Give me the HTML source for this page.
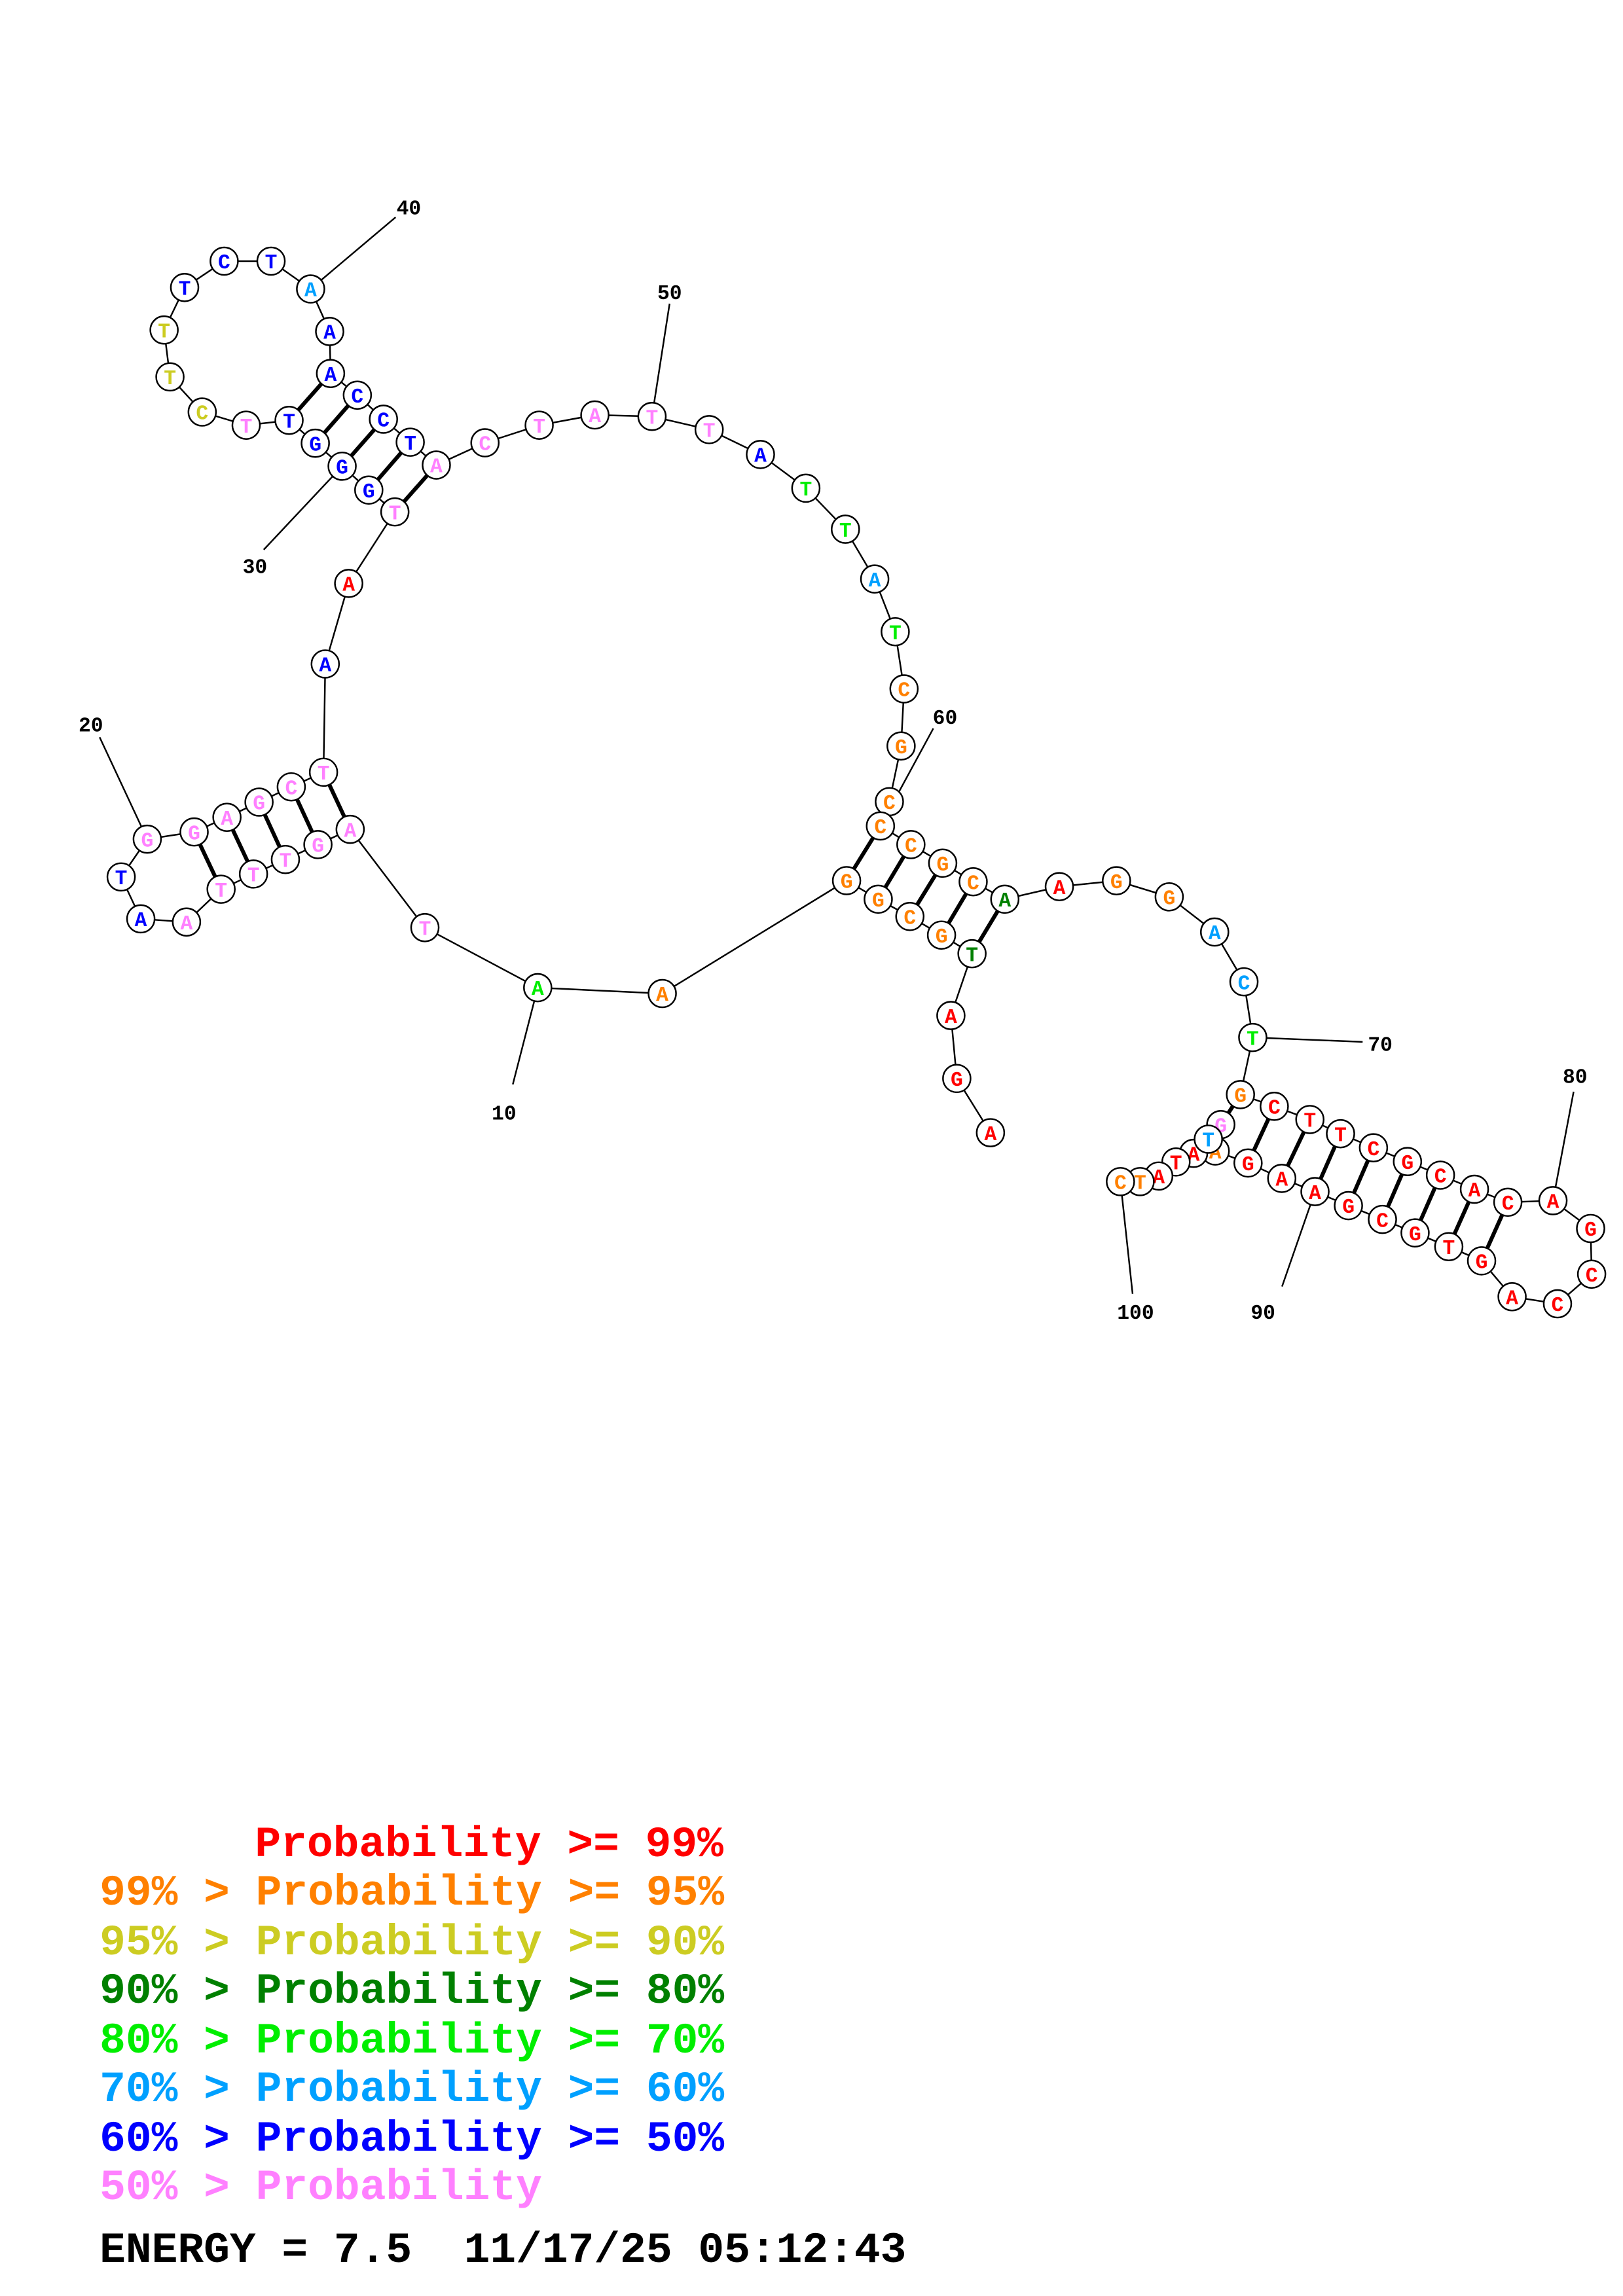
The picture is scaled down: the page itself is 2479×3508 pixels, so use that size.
<!DOCTYPE html>
<html><head><meta charset="utf-8"><style>html,body{margin:0;padding:0;background:#fff}svg{display:block}</style></head><body>
<svg xmlns="http://www.w3.org/2000/svg" width="2479" height="3508" viewBox="0 0 1107.7 1566.9">
<rect x="0" y="0" width="1107.7" height="1566.9" fill="#fff"/>
<g stroke="#000" stroke-width="1.1" fill="none">
<polyline points="676,773 653,736 649,693 663.4,650.8 642.6,638.1 621,625.4 599.4,613.6 577.8,600.9 452,678 367,674 290,633 239,565.9 217,576.3 194.8,586.5 173,596.4 150.9,606.8 127.3,629.2 96.1,627 82.7,598.4 100.5,572.6 132.5,567.7 154.9,557.7 176.8,547.3 198.8,536.9 220.8,526.9 222,453 238,398 269.5,349.2 251.7,334.3 233.5,318 215.2,302.3 197.3,286.7 168,290 138,281 116,257 112,225 126,196 153,178 185,178 212,197 225,226 225.6,254.7 243.9,269.5 261.7,285.9 280,301.6 297.8,317.2 331,302 368,290 406,283 445,284 484,293 519,310 550,333 577,361 597,395 611,431 617,470 615,509 607,547 600.9,563.6 621.7,576.3 643.4,589 664.2,601.7 685.8,613.6 723,605 762,601 798,612 829,636 849,670 855,708 846.6,747 869.7,755 894,764 914.9,773.7 937.4,783.3 960.6,792.7 983.1,802 1006.3,811.6 1029.1,820.5 1059.9,819.4 1085.6,838.4 1086.3,869.6 1063,889.8 1032,885 1011.2,860.5 988.8,850.8 965.8,841.4 943.5,832.2 920.3,822.8 897.5,813.2 874.8,804.2 851.8,793.7 829.4,785.5 833.2,767.5 824.7,777.4 814.6,787.1 802.6,793 790.8,802.6 778.1,806.4 764.7,806.4"/>
<line x1="367" y1="674" x2="350" y2="740"/>
<line x1="100.5" y1="572.6" x2="68" y2="503"/>
<line x1="233.5" y1="318" x2="180" y2="375"/>
<line x1="212" y1="197" x2="270" y2="148"/>
<line x1="445" y1="284" x2="457" y2="207"/>
<line x1="600.9" y1="563.6" x2="637" y2="497"/>
<line x1="855" y1="708" x2="930" y2="711"/>
<line x1="1059.9" y1="819.4" x2="1074" y2="745"/>
<line x1="897.5" y1="813.2" x2="875" y2="878"/>
<line x1="764.7" y1="806.4" x2="773" y2="883"/>
</g>
<g stroke="#000" stroke-width="2.7">
<line x1="239" y1="565.9" x2="220.8" y2="526.9"/>
<line x1="217" y1="576.3" x2="198.8" y2="536.9"/>
<line x1="194.8" y1="586.5" x2="176.8" y2="547.3"/>
<line x1="173" y1="596.4" x2="154.9" y2="557.7"/>
<line x1="150.9" y1="606.8" x2="132.5" y2="567.7"/>
<line x1="269.5" y1="349.2" x2="297.8" y2="317.2"/>
<line x1="251.7" y1="334.3" x2="280" y2="301.6"/>
<line x1="233.5" y1="318" x2="261.7" y2="285.9"/>
<line x1="215.2" y1="302.3" x2="243.9" y2="269.5"/>
<line x1="197.3" y1="286.7" x2="225.6" y2="254.7"/>
<line x1="663.4" y1="650.8" x2="685.8" y2="613.6"/>
<line x1="642.6" y1="638.1" x2="664.2" y2="601.7"/>
<line x1="621" y1="625.4" x2="643.4" y2="589"/>
<line x1="599.4" y1="613.6" x2="621.7" y2="576.3"/>
<line x1="577.8" y1="600.9" x2="600.9" y2="563.6"/>
<line x1="846.6" y1="747" x2="833.2" y2="767.5"/>
<line x1="869.7" y1="755" x2="851.8" y2="793.7"/>
<line x1="894" y1="764" x2="874.8" y2="804.2"/>
<line x1="914.9" y1="773.7" x2="897.5" y2="813.2"/>
<line x1="937.4" y1="783.3" x2="920.3" y2="822.8"/>
<line x1="960.6" y1="792.7" x2="943.5" y2="832.2"/>
<line x1="983.1" y1="802" x2="965.8" y2="841.4"/>
<line x1="1006.3" y1="811.6" x2="988.8" y2="850.8"/>
<line x1="1029.1" y1="820.5" x2="1011.2" y2="860.5"/>
</g>
<g font-family="'Liberation Mono', monospace" font-weight="bold" font-size="14" fill="#000" text-anchor="middle">
<text x="344" y="764">10</text><text x="62" y="499">20</text><text x="174" y="391">30</text><text x="279" y="146">40</text>
<text x="457" y="204">50</text><text x="645" y="494">60</text><text x="942" y="717">70</text><text x="1075" y="739">80</text>
<text x="862" y="900">90</text><text x="775" y="900">100</text>
</g>
<defs><style>
.n circle{fill:#fff;stroke:#000;stroke-width:1.1}
.n text{font-family:'Liberation Mono',monospace;font-weight:bold;font-size:14px;text-anchor:middle}
.r{fill:#ff0000}.o{fill:#ff8000}.y{fill:#cccc22}.d{fill:#008000}.g{fill:#00ee00}.c{fill:#00a0ff}.b{fill:#0000ff}.p{fill:#ff80ff}
</style></defs>
<g class="n">
<circle cx="676" cy="773" r="9.4"/><text class="r" x="676" y="778">A</text>
<circle cx="653" cy="736" r="9.4"/><text class="r" x="653" y="741">G</text>
<circle cx="649" cy="693" r="9.4"/><text class="r" x="649" y="698">A</text>
<circle cx="663.4" cy="650.8" r="9.4"/><text class="d" x="663.4" y="655.8">T</text>
<circle cx="642.6" cy="638.1" r="9.4"/><text class="o" x="642.6" y="643.1">G</text>
<circle cx="621" cy="625.4" r="9.4"/><text class="o" x="621" y="630.4">C</text>
<circle cx="599.4" cy="613.6" r="9.4"/><text class="o" x="599.4" y="618.6">G</text>
<circle cx="577.8" cy="600.9" r="9.4"/><text class="o" x="577.8" y="605.9">G</text>
<circle cx="452" cy="678" r="9.4"/><text class="o" x="452" y="683">A</text>
<circle cx="367" cy="674" r="9.4"/><text class="g" x="367" y="679">A</text>
<circle cx="290" cy="633" r="9.4"/><text class="p" x="290" y="638">T</text>
<circle cx="239" cy="565.9" r="9.4"/><text class="p" x="239" y="570.9">A</text>
<circle cx="217" cy="576.3" r="9.4"/><text class="p" x="217" y="581.3">G</text>
<circle cx="194.8" cy="586.5" r="9.4"/><text class="p" x="194.8" y="591.5">T</text>
<circle cx="173" cy="596.4" r="9.4"/><text class="p" x="173" y="601.4">T</text>
<circle cx="150.9" cy="606.8" r="9.4"/><text class="p" x="150.9" y="611.8">T</text>
<circle cx="127.3" cy="629.2" r="9.4"/><text class="p" x="127.3" y="634.2">A</text>
<circle cx="96.1" cy="627" r="9.4"/><text class="b" x="96.1" y="632">A</text>
<circle cx="82.7" cy="598.4" r="9.4"/><text class="b" x="82.7" y="603.4">T</text>
<circle cx="100.5" cy="572.6" r="9.4"/><text class="p" x="100.5" y="577.6">G</text>
<circle cx="132.5" cy="567.7" r="9.4"/><text class="p" x="132.5" y="572.7">G</text>
<circle cx="154.9" cy="557.7" r="9.4"/><text class="p" x="154.9" y="562.7">A</text>
<circle cx="176.8" cy="547.3" r="9.4"/><text class="p" x="176.8" y="552.3">G</text>
<circle cx="198.8" cy="536.9" r="9.4"/><text class="p" x="198.8" y="541.9">C</text>
<circle cx="220.8" cy="526.9" r="9.4"/><text class="p" x="220.8" y="531.9">T</text>
<circle cx="222" cy="453" r="9.4"/><text class="b" x="222" y="458">A</text>
<circle cx="238" cy="398" r="9.4"/><text class="r" x="238" y="403">A</text>
<circle cx="269.5" cy="349.2" r="9.4"/><text class="p" x="269.5" y="354.2">T</text>
<circle cx="251.7" cy="334.3" r="9.4"/><text class="b" x="251.7" y="339.3">G</text>
<circle cx="233.5" cy="318" r="9.4"/><text class="b" x="233.5" y="323">G</text>
<circle cx="215.2" cy="302.3" r="9.4"/><text class="b" x="215.2" y="307.3">G</text>
<circle cx="197.3" cy="286.7" r="9.4"/><text class="b" x="197.3" y="291.7">T</text>
<circle cx="168" cy="290" r="9.4"/><text class="p" x="168" y="295">T</text>
<circle cx="138" cy="281" r="9.4"/><text class="y" x="138" y="286">C</text>
<circle cx="116" cy="257" r="9.4"/><text class="y" x="116" y="262">T</text>
<circle cx="112" cy="225" r="9.4"/><text class="y" x="112" y="230">T</text>
<circle cx="126" cy="196" r="9.4"/><text class="b" x="126" y="201">T</text>
<circle cx="153" cy="178" r="9.4"/><text class="b" x="153" y="183">C</text>
<circle cx="185" cy="178" r="9.4"/><text class="b" x="185" y="183">T</text>
<circle cx="212" cy="197" r="9.4"/><text class="c" x="212" y="202">A</text>
<circle cx="225" cy="226" r="9.4"/><text class="b" x="225" y="231">A</text>
<circle cx="225.6" cy="254.7" r="9.4"/><text class="b" x="225.6" y="259.7">A</text>
<circle cx="243.9" cy="269.5" r="9.4"/><text class="b" x="243.9" y="274.5">C</text>
<circle cx="261.7" cy="285.9" r="9.4"/><text class="b" x="261.7" y="290.9">C</text>
<circle cx="280" cy="301.6" r="9.4"/><text class="b" x="280" y="306.6">T</text>
<circle cx="297.8" cy="317.2" r="9.4"/><text class="p" x="297.8" y="322.2">A</text>
<circle cx="331" cy="302" r="9.4"/><text class="p" x="331" y="307">C</text>
<circle cx="368" cy="290" r="9.4"/><text class="p" x="368" y="295">T</text>
<circle cx="406" cy="283" r="9.4"/><text class="p" x="406" y="288">A</text>
<circle cx="445" cy="284" r="9.4"/><text class="p" x="445" y="289">T</text>
<circle cx="484" cy="293" r="9.4"/><text class="p" x="484" y="298">T</text>
<circle cx="519" cy="310" r="9.4"/><text class="b" x="519" y="315">A</text>
<circle cx="550" cy="333" r="9.4"/><text class="g" x="550" y="338">T</text>
<circle cx="577" cy="361" r="9.4"/><text class="g" x="577" y="366">T</text>
<circle cx="597" cy="395" r="9.4"/><text class="c" x="597" y="400">A</text>
<circle cx="611" cy="431" r="9.4"/><text class="g" x="611" y="436">T</text>
<circle cx="617" cy="470" r="9.4"/><text class="o" x="617" y="475">C</text>
<circle cx="615" cy="509" r="9.4"/><text class="o" x="615" y="514">G</text>
<circle cx="607" cy="547" r="9.4"/><text class="o" x="607" y="552">C</text>
<circle cx="600.9" cy="563.6" r="9.4"/><text class="o" x="600.9" y="568.6">C</text>
<circle cx="621.7" cy="576.3" r="9.4"/><text class="o" x="621.7" y="581.3">C</text>
<circle cx="643.4" cy="589" r="9.4"/><text class="o" x="643.4" y="594">G</text>
<circle cx="664.2" cy="601.7" r="9.4"/><text class="o" x="664.2" y="606.7">C</text>
<circle cx="685.8" cy="613.6" r="9.4"/><text class="d" x="685.8" y="618.6">A</text>
<circle cx="723" cy="605" r="9.4"/><text class="r" x="723" y="610">A</text>
<circle cx="762" cy="601" r="9.4"/><text class="o" x="762" y="606">G</text>
<circle cx="798" cy="612" r="9.4"/><text class="o" x="798" y="617">G</text>
<circle cx="829" cy="636" r="9.4"/><text class="c" x="829" y="641">A</text>
<circle cx="849" cy="670" r="9.4"/><text class="c" x="849" y="675">C</text>
<circle cx="855" cy="708" r="9.4"/><text class="g" x="855" y="713">T</text>
<circle cx="846.6" cy="747" r="9.4"/><text class="o" x="846.6" y="752">G</text>
<circle cx="869.7" cy="755" r="9.4"/><text class="r" x="869.7" y="760">C</text>
<circle cx="894" cy="764" r="9.4"/><text class="r" x="894" y="769">T</text>
<circle cx="914.9" cy="773.7" r="9.4"/><text class="r" x="914.9" y="778.7">T</text>
<circle cx="937.4" cy="783.3" r="9.4"/><text class="r" x="937.4" y="788.3">C</text>
<circle cx="960.6" cy="792.7" r="9.4"/><text class="r" x="960.6" y="797.7">G</text>
<circle cx="983.1" cy="802" r="9.4"/><text class="r" x="983.1" y="807">C</text>
<circle cx="1006.3" cy="811.6" r="9.4"/><text class="r" x="1006.3" y="816.6">A</text>
<circle cx="1029.1" cy="820.5" r="9.4"/><text class="r" x="1029.1" y="825.5">C</text>
<circle cx="1059.9" cy="819.4" r="9.4"/><text class="r" x="1059.9" y="824.4">A</text>
<circle cx="1085.6" cy="838.4" r="9.4"/><text class="r" x="1085.6" y="843.4">G</text>
<circle cx="1086.3" cy="869.6" r="9.4"/><text class="r" x="1086.3" y="874.6">C</text>
<circle cx="1063" cy="889.8" r="9.4"/><text class="r" x="1063" y="894.8">C</text>
<circle cx="1032" cy="885" r="9.4"/><text class="r" x="1032" y="890">A</text>
<circle cx="1011.2" cy="860.5" r="9.4"/><text class="r" x="1011.2" y="865.5">G</text>
<circle cx="988.8" cy="850.8" r="9.4"/><text class="r" x="988.8" y="855.8">T</text>
<circle cx="965.8" cy="841.4" r="9.4"/><text class="r" x="965.8" y="846.4">G</text>
<circle cx="943.5" cy="832.2" r="9.4"/><text class="r" x="943.5" y="837.2">C</text>
<circle cx="920.3" cy="822.8" r="9.4"/><text class="r" x="920.3" y="827.8">G</text>
<circle cx="897.5" cy="813.2" r="9.4"/><text class="r" x="897.5" y="818.2">A</text>
<circle cx="874.8" cy="804.2" r="9.4"/><text class="r" x="874.8" y="809.2">A</text>
<circle cx="851.8" cy="793.7" r="9.4"/><text class="r" x="851.8" y="798.7">G</text>
<circle cx="829.4" cy="785.5" r="9.4"/><text class="o" x="829.4" y="790.5">A</text>
<circle cx="833.2" cy="767.5" r="9.4"/><text class="p" x="833.2" y="772.5">G</text>
<circle cx="814.6" cy="787.1" r="9.4"/><text class="r" x="814.6" y="792.1">A</text>
<circle cx="802.6" cy="793" r="9.4"/><text class="r" x="802.6" y="798">T</text>
<circle cx="790.8" cy="802.6" r="9.4"/><text class="r" x="790.8" y="807.6">A</text>
<circle cx="778.1" cy="806.4" r="9.4"/><text class="o" x="778.1" y="811.4">T</text>
<circle cx="764.7" cy="806.4" r="9.4"/><text class="o" x="764.7" y="811.4">C</text>
<circle cx="824.7" cy="777.4" r="9.4"/><text class="c" x="824.7" y="782.4">T</text>
</g>
<g font-family="'Liberation Mono', monospace" font-weight="bold" font-size="29.6">
<text x="174" y="1267" fill="#ff0000">Probability &gt;= 99%</text>
<text x="68" y="1300" fill="#ff8000">99% &gt; Probability &gt;= 95%</text>
<text x="68" y="1334" fill="#cccc22">95% &gt; Probability &gt;= 90%</text>
<text x="68" y="1367" fill="#008000">90% &gt; Probability &gt;= 80%</text>
<text x="68" y="1401" fill="#00ee00">80% &gt; Probability &gt;= 70%</text>
<text x="68" y="1434" fill="#00a0ff">70% &gt; Probability &gt;= 60%</text>
<text x="68" y="1468" fill="#0000ff">60% &gt; Probability &gt;= 50%</text>
<text x="68" y="1501" fill="#ff80ff">50% &gt; Probability</text>
<text x="68" y="1544" fill="#000" xml:space="preserve">ENERGY = 7.5  11/17/25 05:12:43</text>
</g>
</svg>
</body></html>
